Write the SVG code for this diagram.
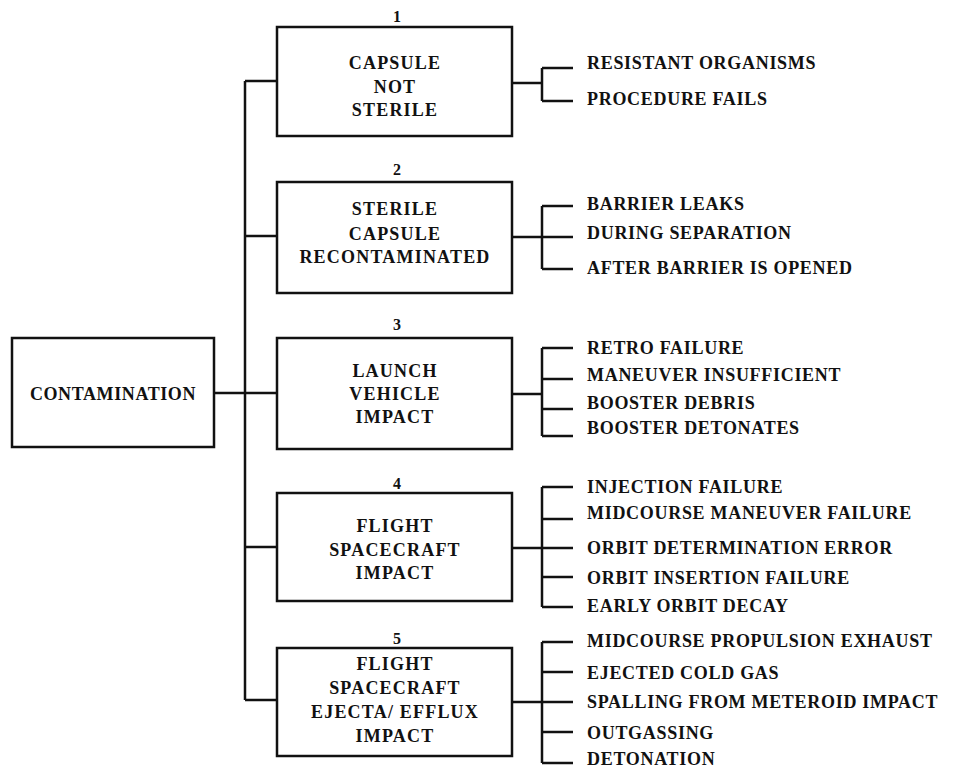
<svg xmlns="http://www.w3.org/2000/svg" width="956" height="770" viewBox="0 0 956 770">
<style>
.box{fill:#fff;stroke:#111;stroke-width:2.5}
.ln{fill:none;stroke:#111;stroke-width:2.5}
text{font-family:"Liberation Serif","DejaVu Serif",serif;font-weight:bold;fill:#111;font-size:18px}
.bt{text-anchor:middle;letter-spacing:1.2px}
.num{text-anchor:middle;font-size:16px}
.lf{letter-spacing:0.7px}
</style>
<rect width="956" height="770" fill="#fff"/>
<g id="connectors">
<path class="ln" d="M245,81V700M245,81H277M245,236H277M214,393H277M245,547H277M245,700H277"/>
<path class="ln" d="M512,83H542M542,68V101M542,68H573M542,101H573"/>
<path class="ln" d="M512,237H542M542,206V269M542,206H573M542,237H573M542,269H573"/>
<path class="ln" d="M512,394H542M542,348V436M542,348H573M542,379H573M542,409H573M542,436H573"/>
<path class="ln" d="M512,548H542M542,487V607M542,487H573M542,519H573M542,548H573M542,577H573M542,607H573"/>
<path class="ln" d="M512,702H542M542,642V763M542,642H573M542,672H573M542,702H573M542,732H573M542,763H573"/>
</g>
<g id="root">
<rect class="box" x="12" y="338" width="202" height="109"/>
<text class="bt" x="113" y="400" style="letter-spacing:0.6px">CONTAMINATION</text>
</g>
<g id="node1">
<text class="num" x="397" y="22">1</text>
<rect class="box" x="277" y="27" width="235" height="109"/>
<text class="bt" x="395" y="69">CAPSULE</text>
<text class="bt" x="395" y="93">NOT</text>
<text class="bt" x="395" y="116">STERILE</text>
</g>
<g id="node2">
<text class="num" x="397" y="175">2</text>
<rect class="box" x="277" y="182" width="235" height="111"/>
<text class="bt" x="395" y="215">STERILE</text>
<text class="bt" x="395" y="240">CAPSULE</text>
<text class="bt" x="395" y="263">RECONTAMINATED</text>
</g>
<g id="node3">
<text class="num" x="397" y="330">3</text>
<rect class="box" x="277" y="338" width="235" height="111"/>
<text class="bt" x="395" y="377">LAUNCH</text>
<text class="bt" x="395" y="400">VEHICLE</text>
<text class="bt" x="395" y="423">IMPACT</text>
</g>
<g id="node4">
<text class="num" x="397" y="489">4</text>
<rect class="box" x="277" y="493" width="235" height="108"/>
<text class="bt" x="395" y="532">FLIGHT</text>
<text class="bt" x="395" y="556">SPACECRAFT</text>
<text class="bt" x="395" y="579">IMPACT</text>
</g>
<g id="node5">
<text class="num" x="397" y="644">5</text>
<rect class="box" x="277" y="648" width="235" height="108"/>
<text class="bt" x="395" y="670">FLIGHT</text>
<text class="bt" x="395" y="694">SPACECRAFT</text>
<text class="bt" x="395" y="718">EJECTA/ EFFLUX</text>
<text class="bt" x="395" y="742">IMPACT</text>
</g>
<g id="leaves1">
<text class="lf" x="587" y="69">RESISTANT ORGANISMS</text>
<text class="lf" x="587" y="105">PROCEDURE FAILS</text>
</g>
<g id="leaves2">
<text class="lf" x="587" y="210">BARRIER LEAKS</text>
<text class="lf" x="587" y="239">DURING SEPARATION</text>
<text class="lf" x="587" y="274">AFTER BARRIER IS OPENED</text>
</g>
<g id="leaves3">
<text class="lf" x="587" y="354">RETRO FAILURE</text>
<text class="lf" x="587" y="381">MANEUVER INSUFFICIENT</text>
<text class="lf" x="587" y="409">BOOSTER DEBRIS</text>
<text class="lf" x="587" y="434">BOOSTER DETONATES</text>
</g>
<g id="leaves4">
<text class="lf" x="587" y="493">INJECTION FAILURE</text>
<text class="lf" x="587" y="519">MIDCOURSE MANEUVER FAILURE</text>
<text class="lf" x="587" y="554">ORBIT DETERMINATION ERROR</text>
<text class="lf" x="587" y="584">ORBIT INSERTION FAILURE</text>
<text class="lf" x="587" y="612">EARLY ORBIT DECAY</text>
</g>
<g id="leaves5">
<text class="lf" x="587" y="647">MIDCOURSE PROPULSION EXHAUST</text>
<text class="lf" x="587" y="679">EJECTED COLD GAS</text>
<text class="lf" x="587" y="708">SPALLING FROM METEROID IMPACT</text>
<text class="lf" x="587" y="739">OUTGASSING</text>
<text class="lf" x="587" y="765">DETONATION</text>
</g>
</svg>
